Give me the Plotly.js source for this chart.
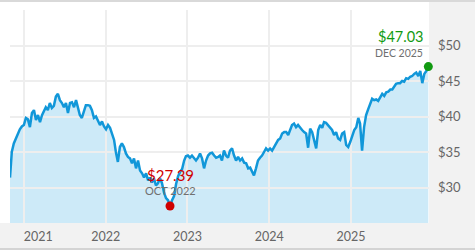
<!DOCTYPE html>
<html>
<head>
<meta charset="utf-8">
<script src="https://cdn.plot.ly/plotly-3.0.1.min.js"></script>
<style>html,body{margin:0;padding:0;background:#fff;}#chart{width:475px;height:250px;}</style>
</head>
<body>
<div id="chart"></div>
<script>
// Sampling: evenly spaced observations between these two dates
const firstDate = '2020-10-30';
const lastDate = '2025-12-12';

// Price series
const prices = [
  31.4, 35.0, 36.2, 36.9, 37.6, 38.2, 38.6, 38.8, 39.8, 39.6,
  38.5, 40.5, 40.9, 39.5, 40.2, 39.2, 40.2, 40.9, 41.3, 40.9,
  41.9, 41.2, 41.5, 42.8, 43.2, 42.3, 41.9, 41.3, 41.9, 40.5,
  41.9, 42.0, 41.3, 42.3, 41.3, 40.2, 39.8, 40.9, 41.6, 41.6,
  41.5, 40.9, 39.8, 40.0, 39.5, 38.8, 39.3, 38.6, 38.2, 38.8,
  38.4, 37.6, 36.7, 35.0, 33.6, 35.7, 36.2, 35.7, 34.8, 34.3,
  34.1, 33.4, 34.1, 32.7, 33.8, 32.4, 32.0, 31.4, 32.0, 31.0,
  31.4, 30.7, 31.3, 30.3, 30.6, 31.3, 30.6, 29.3, 28.5, 28.2,
  27.39, 28.2, 28.8, 30.5, 31.6, 32.2, 32.6, 33.8, 34.4, 34.5,
  34.2, 34.5, 34.1, 33.8, 34.2, 34.8, 34.1, 32.7, 33.8, 34.5,
  34.8, 34.9, 34.5, 34.2, 34.3, 34.5, 33.8, 35.2, 34.5, 34.2,
  35.2, 35.5, 34.5, 33.8, 34.3, 33.8, 34.1, 33.5, 33.4, 32.7,
  32.8, 32.1, 31.7, 32.7, 33.8, 34.2, 34.5, 35.0, 35.5, 35.2,
  35.5, 35.2, 35.7, 36.0, 36.7, 36.9, 37.6, 37.8, 37.8, 37.4,
  38.1, 38.8, 39.0, 38.5, 38.8, 38.4, 38.1, 37.8, 37.6, 35.6,
  38.3, 37.8, 36.7, 35.5, 38.1, 38.8, 38.4, 39.2, 39.1, 38.8,
  38.5, 38.1, 37.4, 37.8, 36.9, 36.7, 37.6, 37.8, 36.0, 35.7,
  36.4, 37.4, 38.1, 38.5, 39.8, 39.0, 35.2, 38.5, 40.2, 41.0,
  41.8, 42.5, 42.3, 42.4, 42.2, 42.8, 43.2, 42.9, 43.4, 43.5,
  43.8, 43.8, 44.2, 44.6, 44.7, 44.7, 45.0, 44.9, 45.4, 45.3,
  45.6, 45.7, 46.0, 46.2, 45.7, 46.4, 44.7, 46.0, 46.4, 47.03
];

const yearGridDates = ['2021-01-01', '2022-01-01', '2023-01-01', '2024-01-01', '2025-01-01'];
const yearLabelDates = ['2021-03-05', '2022-01-01', '2023-01-01', '2024-01-01', '2025-01-01'];
const yearLabels = ['2021', '2022', '2023', '2024', '2025'];
const priceTickVals = [30, 35, 40, 45, 50, 55];
const priceTickText = ['$30', '$35', '$40', '$45', '$50', ''];

// build dates
const t0 = new Date(firstDate + 'T00:00:00Z').getTime();
const t1 = new Date(lastDate + 'T00:00:00Z').getTime();
const dates = prices.map((_, i) => new Date(t0 + (t1 - t0) * i / (prices.length - 1)).toISOString().slice(0, 10));

let minIdx = 0;
prices.forEach((v, i) => { if (v < prices[minIdx]) minIdx = i; });
const lastIdx = prices.length - 1;

const monthNames = ['JAN','FEB','MAR','APR','MAY','JUN','JUL','AUG','SEP','OCT','NOV','DEC'];
function mLabel(d) { const dt = new Date(d + 'T00:00:00Z'); return monthNames[dt.getUTCMonth()] + ' ' + dt.getUTCFullYear(); }

const xRange = [dates[0], new Date(t1 + 3 * 86400000).toISOString().slice(0, 10)];
const yRange = [25, 55];

const FONT = 'Lato, "Open Sans", sans-serif';
const LINE = '#1197d9';

const traces = [
  { x: dates, y: prices, xaxis: 'x', yaxis: 'y', type: 'scatter', mode: 'lines',
    fill: 'tozeroy', fillcolor: '#cdeaf8', line: { width: 0, color: 'rgba(0,0,0,0)' }, hoverinfo: 'skip' },
  { x: dates, y: prices, xaxis: 'x2', yaxis: 'y2', type: 'scatter', mode: 'lines',
    line: { color: LINE, width: 2.5 }, hoverinfo: 'skip' },
  { x: [dates[minIdx]], y: [prices[minIdx]], xaxis: 'x2', yaxis: 'y2', type: 'scatter', mode: 'markers',
    marker: { color: '#d00000', size: 9 }, hoverinfo: 'skip' },
  { x: [dates[lastIdx]], y: [prices[lastIdx]], xaxis: 'x2', yaxis: 'y2', type: 'scatter', mode: 'markers',
    marker: { color: '#119a11', size: 9 }, hoverinfo: 'skip', cliponaxis: false }
];

const layout = {
  width: 475, height: 250,
  margin: { l: 10, r: 46, t: 10, b: 27, pad: 0 },
  paper_bgcolor: '#ffffff', plot_bgcolor: 'rgba(0,0,0,0)',
  showlegend: false,
  font: { family: FONT, size: 12, color: '#666666' },
  xaxis: { domain: [0, 1], anchor: 'y', type: 'date', range: xRange, showgrid: false, zeroline: false,
    tickmode: 'array', tickvals: yearLabelDates, ticktext: yearLabels, ticks: '', ticklabelstandoff: 4,
    tickfont: { family: FONT, size: 12.5, color: '#666666' }, showline: false },
  yaxis: { domain: [0, 1], anchor: 'x', range: yRange, showgrid: false, zeroline: false, showticklabels: false, ticks: '' },
  xaxis2: { domain: [0, 1], anchor: 'y2', type: 'date', range: xRange, showgrid: true, gridcolor: '#eeeeee', gridwidth: 2,
    tickmode: 'array', tickvals: yearGridDates, showticklabels: false, zeroline: false, ticks: '' },
  yaxis2: { domain: [0, 1], anchor: 'x2', side: 'right', range: yRange, showgrid: true, gridcolor: '#eeeeee', gridwidth: 2,
    tickmode: 'array', tickvals: priceTickVals, ticktext: priceTickText, zeroline: false, ticks: '', ticklabelstandoff: 8,
    tickfont: { family: FONT, size: 13, color: '#666666' } },
  shapes: [
    { type: 'rect', xref: 'paper', yref: 'paper', x0: 1, x1: 1.2, y0: -0.3, y1: 1.2, fillcolor: '#f2f2f2', line: { width: 0 }, layer: 'below' },
    { type: 'rect', xref: 'paper', yref: 'paper', x0: -0.1, x1: 1.2, y0: -0.3, y1: 0, fillcolor: '#f2f2f2', line: { width: 0 }, layer: 'below' },
    { type: 'rect', xref: 'paper', yref: 'paper', x0: -0.1, x1: 1.2, y0: 1 + 8 / 213, y1: 1.2, fillcolor: '#d9d9d9', line: { width: 0 }, layer: 'below' },
    { type: 'rect', xref: 'paper', yref: 'paper', x0: -0.1, x1: 1.2, y0: -0.3, y1: -25 / 213, fillcolor: '#d4d4d4', line: { width: 0 }, layer: 'below' }
  ],
  annotations: [
    { xref: 'x2', yref: 'y2', x: dates[minIdx], y: prices[minIdx], text: '$' + prices[minIdx].toFixed(2),
      showarrow: false, xanchor: 'center', yanchor: 'middle', yshift: 31, font: { family: FONT, size: 15, color: '#d00000' } },
    { xref: 'x2', yref: 'y2', x: dates[minIdx], y: prices[minIdx], text: mLabel(dates[minIdx]),
      showarrow: false, xanchor: 'center', yanchor: 'middle', yshift: 16, font: { family: FONT, size: 11, color: '#707070' } },
    { xref: 'x2', yref: 'y2', x: dates[lastIdx], y: prices[lastIdx], text: '$' + prices[lastIdx].toFixed(2),
      showarrow: false, xanchor: 'right', yanchor: 'middle', xshift: -3, yshift: 30, font: { family: FONT, size: 14.5, color: '#119a11' } },
    { xref: 'x2', yref: 'y2', x: dates[lastIdx], y: prices[lastIdx], text: mLabel(dates[lastIdx]),
      showarrow: false, xanchor: 'right', yanchor: 'middle', xshift: -3, yshift: 14, font: { family: FONT, size: 10.5, color: '#707070' } }
  ]
};

Plotly.newPlot('chart', traces, layout, { displayModeBar: false, staticPlot: true });
</script>
</body>
</html>
